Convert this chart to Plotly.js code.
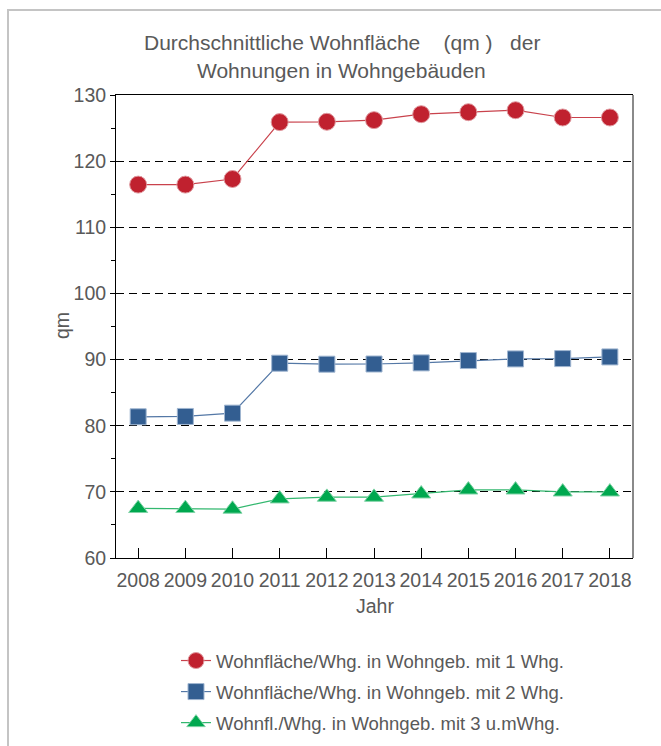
<!DOCTYPE html>
<html>
<head>
<meta charset="utf-8">
<script src="https://cdn.plot.ly/plotly-3.0.1.min.js"></script>
<style>
html,body{margin:0;padding:0;background:#fff;}
#frame{position:absolute;left:7px;top:9px;width:660px;height:740px;border-left:2px solid #c4c4c4;border-top:2px solid #c4c4c4;pointer-events:none;}
#chart{position:absolute;left:0;top:0;width:661px;height:746px;}
</style>
</head>
<body>
<div id="chart"></div>
<div id="frame"></div>
<script>
const years = [2008, 2009, 2010, 2011, 2012, 2013, 2014, 2015, 2016, 2017, 2018];
const wfl1 = [116.45, 116.45, 117.3, 125.9, 125.95, 126.2, 127.1, 127.4, 127.7, 126.6, 126.6];
const wfl2 = [81.35, 81.4, 81.9, 89.45, 89.3, 89.33, 89.5, 89.85, 90.1, 90.15, 90.4];
const wfl3 = [67.5, 67.5, 67.4, 68.95, 69.2, 69.2, 69.7, 70.3, 70.3, 70.0, 70.0];
const names = [
  "Wohnfläche/Whg. in Wohngeb. mit 1 Whg.",
  "Wohnfläche/Whg. in Wohngeb. mit 2 Whg.",
  "Wohnfl./Whg. in Wohngeb. mit 3 u.mWhg."
];
const yTicks = [60, 70, 80, 90, 100, 110, 120, 130];

const FONT = "Liberation Sans, Arial, sans-serif";
const GREY = "#595959";

const traces = [
  {x: years, y: wfl1, name: names[0], legendgroup: "g1", mode: "lines+markers", type: "scatter",
   line: {color: "#c9424c", width: 1.2},
   marker: {symbol: "circle", size: 17, color: "#c0212f", line: {color: "#e09aa0", width: 1}}},
  {x: years, y: wfl2, name: names[1], legendgroup: "g2", mode: "lines+markers", type: "scatter",
   line: {color: "#5478a6", width: 1.2},
   marker: {symbol: "square", size: 16, color: "#335e91", line: {color: "#9fb5d0", width: 1}}},
  {x: years, y: wfl3, name: names[2], legendgroup: "g3", mode: "lines+markers", type: "scatter",
   line: {color: "#33b86f", width: 1.2},
   marker: {symbol: "triangle-up", size: 16.5, color: "#00a84f", line: {color: "#7fd3a6", width: 1}}}
];

const L = 116, R = 633, T = 95, B = 558;
const pw = R - L, ph = B - T;
function px2x(p){ return (p - L) / pw; }
function px2y(p){ return (B - p) / ph; }

const layout = {
  width: 661, height: 746,
  margin: {l: L, r: 661 - R, t: T, b: 746 - B, autoexpand: false},
  paper_bgcolor: "rgba(0,0,0,0)",
  plot_bgcolor: "#fff",
  font: {family: FONT, size: 18, color: GREY},
  showlegend: true,
  legend: {
    xref: "container", yref: "container",
    x: 176 / 661, y: 1 - 642 / 746, xanchor: "left", yanchor: "top",
    traceorder: "grouped", tracegroupgap: 4,
    font: {family: FONT, size: 18.5, color: GREY},
    bgcolor: "rgba(0,0,0,0)", borderwidth: 0
  },
  xaxis: {
    range: [2007.53, 2018.49],
    tickvals: years, ticktext: years.map(String),
    ticks: "inside", ticklen: 10, tickcolor: "#000", tickwidth: 1, tickangle: 0,
    ticklabelstandoff: 5,
    showline: true, linecolor: "#000", linewidth: 1, mirror: true,
    showgrid: false, zeroline: false, automargin: false,
    tickfont: {family: FONT, size: 19.5, color: GREY}
  },
  yaxis: {
    range: [60, 130],
    tickvals: yTicks,
    ticks: "outside", ticklen: 5, tickcolor: "#000", tickwidth: 1,
    minor: {dtick: 5, tick0: 60, ticks: "outside", ticklen: 4, tickcolor: "#000", showgrid: false},
    showline: true, linecolor: "#000", linewidth: 1,
    showgrid: true, gridcolor: "#000", gridwidth: 1, griddash: "8px,5px",
    zeroline: false, automargin: false,
    tickfont: {family: FONT, size: 19.5, color: GREY}
  },
  shapes: [
    {type: "line", xref: "paper", yref: "paper", x0: 1, x1: 1, y0: 0, y1: 1,
     line: {color: "#8a8a8a", width: 2}}
  ],
  annotations: [
    {text: "Durchschnittliche Wohnfläche&nbsp;&nbsp;&nbsp;&nbsp;(qm )&nbsp;&nbsp;&nbsp;der",
     xref: "paper", yref: "paper", x: px2x(342), y: px2y(42), xanchor: "center", yanchor: "middle",
     showarrow: false, font: {family: FONT, size: 21, color: GREY}},
    {text: "Wohnungen in Wohngebäuden",
     xref: "paper", yref: "paper", x: px2x(341), y: px2y(70), xanchor: "center", yanchor: "middle",
     showarrow: false, font: {family: FONT, size: 21, color: GREY}},
    {text: "Jahr",
     xref: "paper", yref: "paper", x: px2x(375), y: px2y(606), xanchor: "center", yanchor: "middle",
     showarrow: false, font: {family: FONT, size: 19.5, color: GREY}},
    {text: "qm", textangle: -90,
     xref: "paper", yref: "paper", x: px2x(62), y: px2y(326), xanchor: "center", yanchor: "middle",
     showarrow: false, font: {family: FONT, size: 19.5, color: GREY}}
  ]
};

Plotly.newPlot("chart", traces, layout, {displayModeBar: false, staticPlot: true});
</script>
</body>
</html>
